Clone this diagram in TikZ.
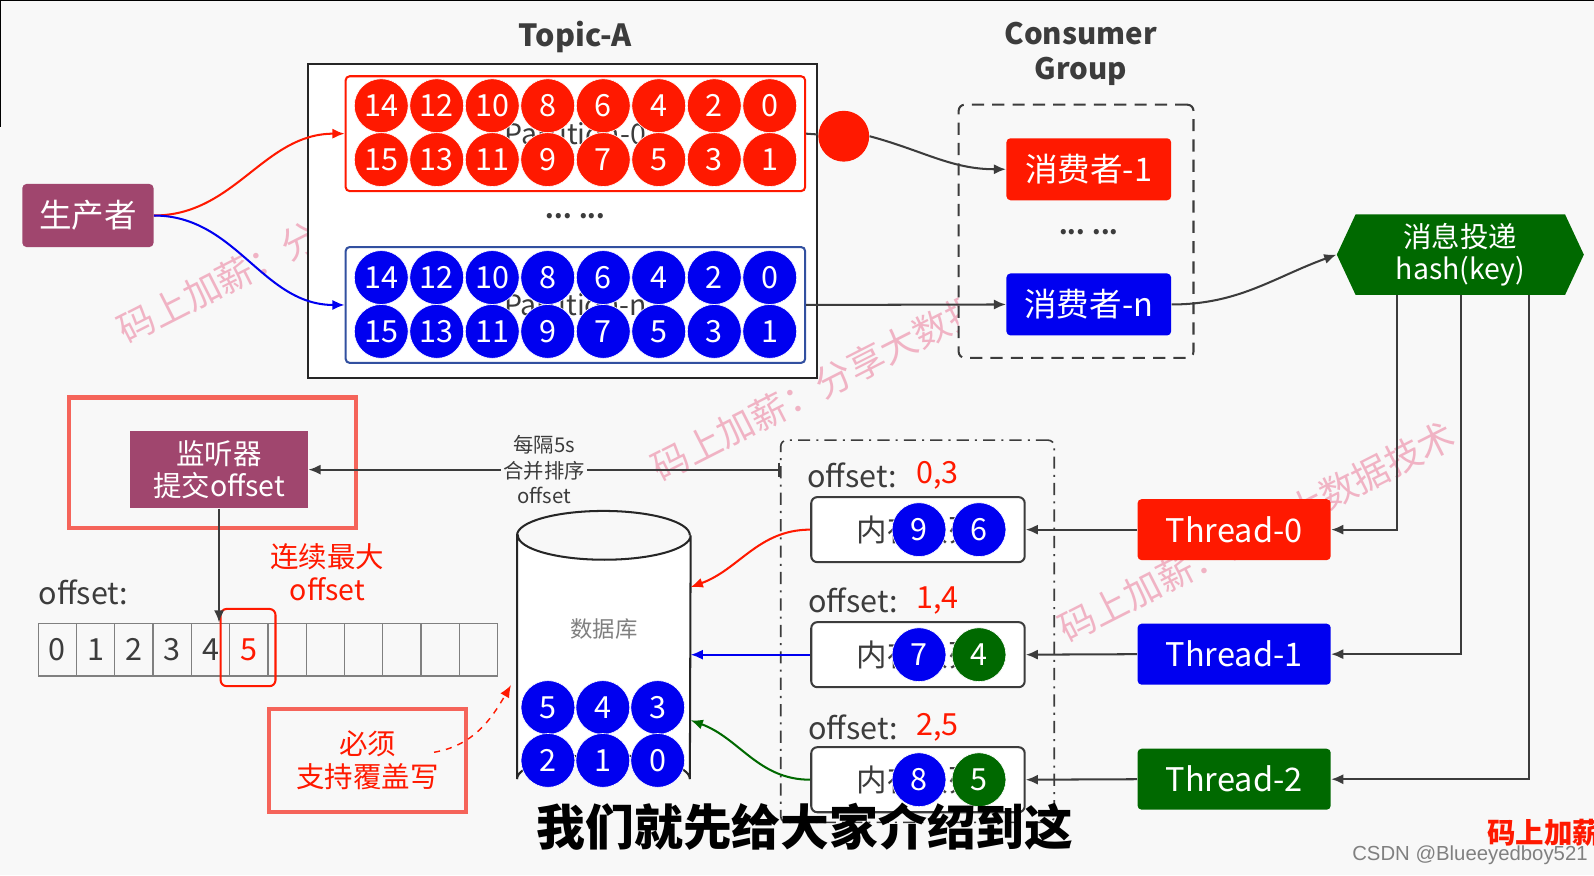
\documentclass[tikz,border=0pt]{standalone}
\usepackage{fontspec}
\setmainfont{Noto Sans CJK SC}
\newfontfamily\csdnfont{Liberation Sans}
\usepackage{xcolor}
\usepackage{tikz}
\usetikzlibrary{arrows,arrows.meta,shapes,positioning}

\begin{document}
\begin{tikzpicture}[x=0.5pt,y=-0.5pt,>={Latex[length=6pt,width=5pt]}]
    \definecolor{myred}{RGB}{255,25,0}
    \definecolor{myblue}{RGB}{0,0,240}
    \definecolor{mygreen}{RGB}{0,105,0}
    \definecolor{mypurple}{RGB}{160,70,110}
    \definecolor{myframe}{RGB}{245,100,90}
    \definecolor{myborder}{RGB}{50,80,160}
    \definecolor{mygray}{RGB}{60,60,60}
    \definecolor{mybg}{RGB}{248,248,248}
    \definecolor{mypink}{RGB}{238,150,175}

    \tikzstyle{ball}=[circle,inner sep=0pt,minimum size=26.5pt,draw=white,line width=0.3pt,text=white,font=\fontsize{15}{15}\selectfont]  % 圆球
    \tikzstyle{block}=[rectangle,rounded corners=2pt,text=white,inner sep=0pt,font=\fontsize{16}{18}\selectfont]  % 彩色块
    \tikzstyle{frame}=[rectangle,draw=myframe,line width=2pt,inner sep=0pt]  % 红色外框
    \tikzstyle{queue}=[rectangle,rounded corners=3pt,draw=mygray,line width=1pt,fill=white,minimum width=105pt,minimum height=32pt,text=mygray,font=\fontsize{15}{15}\selectfont]
    \tikzstyle{line}=[->,draw=mygray,line width=1pt]  % 连线
    \tikzstyle{txt}=[text=mygray,font=\fontsize{15}{15}\selectfont]
    \tikzstyle{watermark}=[text=mypink,opacity=0.7,rotate=27,font=\fontsize{18}{18}\selectfont]

    % 背景
    \fill[mybg] (0,0) rectangle (1568,861);
    \useasboundingbox (0,0) rectangle (1568,861);
    \draw[black,line width=1pt] (0,125) -- (0,0) -- (1568,0);

    % 水印
    \node[watermark] (wm1) at (311,229) {码上加薪：分享大数据技术};
    \node[watermark] (wm2) at (836,364) {码上加薪：分享大数据技术};
    \node[watermark] (wm3) at (1236,523) {码上加薪：分享大数据技术};

    % Topic-A
    \node[font=\bfseries\fontsize{15}{15}\selectfont,text=mygray] (topic) at (566,36) {Topic-A};
    \node[rectangle,draw=black!85,line width=1pt,fill=white,minimum width=250.5pt,minimum height=154.5pt] (topicbox) at (553.5,217.5) {};
    \node[rectangle,rounded corners=2pt,draw=myred,line width=1pt,fill=white,minimum width=226pt,minimum height=56.5pt,txt,font=\fontsize{14}{14}\selectfont] (part0) at (566,131.5) {Partition-0};
    \node[rectangle,rounded corners=2pt,draw=myborder,line width=1pt,fill=white,minimum width=226pt,minimum height=57pt,txt,font=\fontsize{14}{14}\selectfont] (partn) at (566,300) {Partition-n};
    \foreach \n [count=\i from 0] in {14,12,10,8,6,4,2,0} {
        \node[ball,fill=myred] (pa\i) at (375+54.6*\i,104) {\n};
        \node[ball,fill=myblue] (na\i) at (375+54.6*\i,273) {\n};
    }
    \foreach \n [count=\i from 0] in {15,13,11,9,7,5,3,1} {
        \node[ball,fill=myred] (pb\i) at (375+54.6*\i,157) {\n};
        \node[ball,fill=myblue] (nb\i) at (375+54.6*\i,326) {\n};
    }
    \node[font=\bfseries\fontsize{12}{12}\selectfont,text=mygray] (dots1) at (566,213) {... ...};

    % 生产者
    \node[block,fill=mypurple,minimum width=64.5pt,minimum height=31pt] (producer) at (86.5,212) {生产者};
    \draw[->,myred,line width=1pt] (producer.east) to[out=0,in=180] (part0.west);
    \draw[->,myblue,line width=1pt] (producer.east) to[out=0,in=180] (partn.west);

    % Consumer Group
    \node[font=\bfseries\fontsize{14.5}{17}\selectfont,text=mygray,align=center] (cgroup) at (1063,53) {Consumer\\Group};
    \node[rectangle,rounded corners=3pt,draw=mygray,fill=mybg,dash pattern=on 6pt off 4pt,line width=1pt,minimum width=115.5pt,minimum height=124.5pt] (cgbox) at (1058.5,227.5) {};
    \node[block,fill=myred,minimum width=81pt,minimum height=30.5pt] (c1) at (1071,166.5) {消费者-1};
    \node[font=\bfseries\fontsize{12}{12}\selectfont,text=mygray] (dots2) at (1071,228) {... ...};
    \node[block,fill=myblue,minimum width=81pt,minimum height=30.5pt] (cn) at (1071,299.5) {消费者-n};

    \node[circle,fill=myred,minimum size=25pt,inner sep=0pt] (msg) at (830,134) {};
    \draw[mygray,line width=1pt] (part0.east) -- (msg);
    \draw[line] (msg.east) to[out=-15,in=180] (c1.west);
    \draw[line] (partn.east) -- (cn.west);

    % 消息投递
    \node[signal,signal to=west and east,signal pointer angle=130,fill=mygreen,text=white,inner sep=0pt,minimum width=121.5pt,minimum height=39.5pt,align=center,font=\fontsize{14}{16}\selectfont] (hash) at (1436.5,250.5) {消息投递\\hash(key)};
    \draw[line] (cn.east) to[out=0,in=200] (hash.west);

    % 线程
    \node[block,fill=myred,minimum width=95pt,minimum height=30pt] (t0) at (1214,521) {Thread-0};
    \node[block,fill=myblue,minimum width=95pt,minimum height=30pt] (t1) at (1214,643.5) {Thread-1};
    \node[block,fill=mygreen,minimum width=95pt,minimum height=30pt] (t2) at (1214,766.5) {Thread-2};
    \draw[line] ([xshift=-31pt]hash.south) |- (t0.east);
    \draw[line] ([xshift=0.5pt]hash.south) |- (t1.east);
    \draw[line] ([xshift=34pt]hash.south) |- (t2.east);

    % 内存队列
    \node[rectangle,rounded corners=3pt,draw=mygray,dash pattern=on 6pt off 3pt on 1pt off 3pt,line width=0.8pt,minimum width=134.5pt,minimum height=188pt] (qgroup) at (902.5,621) {};
    \node[txt] (off0) at (838,468) {offset:};
    \node[txt,text=myred] (off0v) at (922,468) {0,3};
    \node[queue] (m0) at (903,521) {内存队列};
    \node[txt] (off1) at (839,591) {offset:};
    \node[txt,text=myred] (off1v) at (922,591) {1,4};
    \node[queue] (m1) at (903,644) {内存队列};
    \node[txt] (off2) at (839,715) {offset:};
    \node[txt,text=myred] (off2v) at (922,715) {2,5};
    \node[queue] (m2) at (903,767) {内存队列};
    \node[ball,fill=myblue] (q0a) at (904,521) {9};
    \node[ball,fill=myblue] (q0b) at (963,521) {6};
    \node[ball,fill=myblue] (q1a) at (904,644) {7};
    \node[ball,fill=mygreen] (q1b) at (963,644) {4};
    \node[ball,fill=myblue] (q2a) at (904,767) {8};
    \node[ball,fill=mygreen] (q2b) at (963,767) {5};
    \draw[line] (t0.west) -- (m0.east);
    \draw[line] (t1.west) -- (m1.east);
    \draw[line] (t2.west) -- (m2.east);

    % 监听器
    \node[frame,minimum width=141pt,minimum height=64pt] (lframe) at (209,455) {};
    \node[rectangle,fill=mypurple,text=white,minimum width=87.5pt,minimum height=38pt,inner sep=0pt,align=center,font=\fontsize{14}{16}\selectfont] (listener) at (215.5,462) {监听器\\提交offset};
    \draw[|->,mygray,line width=1pt] (qgroup.west |- listener) -- node[fill=mybg,inner sep=1pt,align=center,text=mygray,font=\fontsize{10}{12.5}\selectfont]{每隔5s\\合并排序\\offset} (listener.east);

    % offset 数组
    \node[txt] (offarr) at (82,583) {offset:};
    \foreach \v [count=\i from 0] in {0,1,2,3,4,,,,,,,} {
        \node[rectangle,draw=gray,line width=0.6pt,minimum width=18.8pt,minimum height=26pt,inner sep=0pt,txt] (cell\i) at (56.5+37.65*\i,639) {\v};
    }
    \node[txt,text=myred] (cell5txt) at (cell5) {5};
    \node[rectangle,rounded corners=3pt,draw=myred,line width=1pt,minimum width=27pt,minimum height=38pt] (hl) at (244,637) {};
    \draw[line] (listener.south) -- (listener.south |- cell4.north);
    \node[text=myred,align=center,font=\fontsize{14}{16.5}\selectfont] (maxoff) at (322,563) {连续最大\\offset};

    % 必须支持覆盖写
    \node[frame,minimum width=96.5pt,minimum height=51pt,text=myred,align=center,font=\fontsize{14}{16}\selectfont] (ow) at (361.5,748) {必须\\支持覆盖写};

    % 数据库 (圆柱)
    \node[rectangle,minimum width=85pt,minimum height=143.5pt,inner sep=0pt] (db) at (594,646.5) {};
    \draw[draw=black!85,line width=1pt,fill=white] ([yshift=-12pt]db.north west) -- ([yshift=12pt]db.south west)
        arc[start angle=180,end angle=360,x radius=85,y radius=24] -- ([yshift=-12pt]db.north east)
        arc[start angle=0,end angle=180,x radius=85,y radius=24] -- cycle;
    \draw[draw=black!85,line width=1pt] ([yshift=-12pt]db.north west) arc[start angle=180,end angle=360,x radius=85,y radius=24];
    \node[text=gray,font=\fontsize{11}{11}\selectfont] (dbtxt) at (594,619) {数据库};
    \foreach \n [count=\i from 0] in {5,4,3} {
        \node[ball,fill=myblue] (da\i) at (539+54*\i,696) {\n};
    }
    \foreach \n [count=\i from 0] in {2,1,0} {
        \node[ball,fill=myblue] (db\i) at (539+54*\i,748) {\n};
    }
    \draw[->,myred,line width=1pt] (m0.west) to[out=180,in=20] ([yshift=34.5pt]db.east);
    \draw[->,myblue,line width=1pt] (m1.west) -- (m1.west -| db.east);
    \draw[->,mygreen,line width=1pt] (m2.west) to[out=180,in=-20] ([yshift=-31pt]db.east);
    \draw[->,myred,dashed,line width=0.7pt] ([xshift=-16.5pt,yshift=4pt]ow.east) to[out=10,in=240] ([xshift=-3pt,yshift=-13.75pt]db.west);

    % 字幕
    \node[font=\bfseries\fontsize{24}{24}\selectfont] (subtitle) at (792,813) {我们就先给大家介绍到这};
    \node[text=gray,font=\csdnfont\fontsize{10}{10}\selectfont] (csdn) at (1446,841) {CSDN @Blueeyedboy521};
    \node[anchor=west,text=myred,font=\bfseries\fontsize{14}{14}\selectfont] (logo) at (1456,819) {码上加薪};
\end{tikzpicture}
\end{document}
